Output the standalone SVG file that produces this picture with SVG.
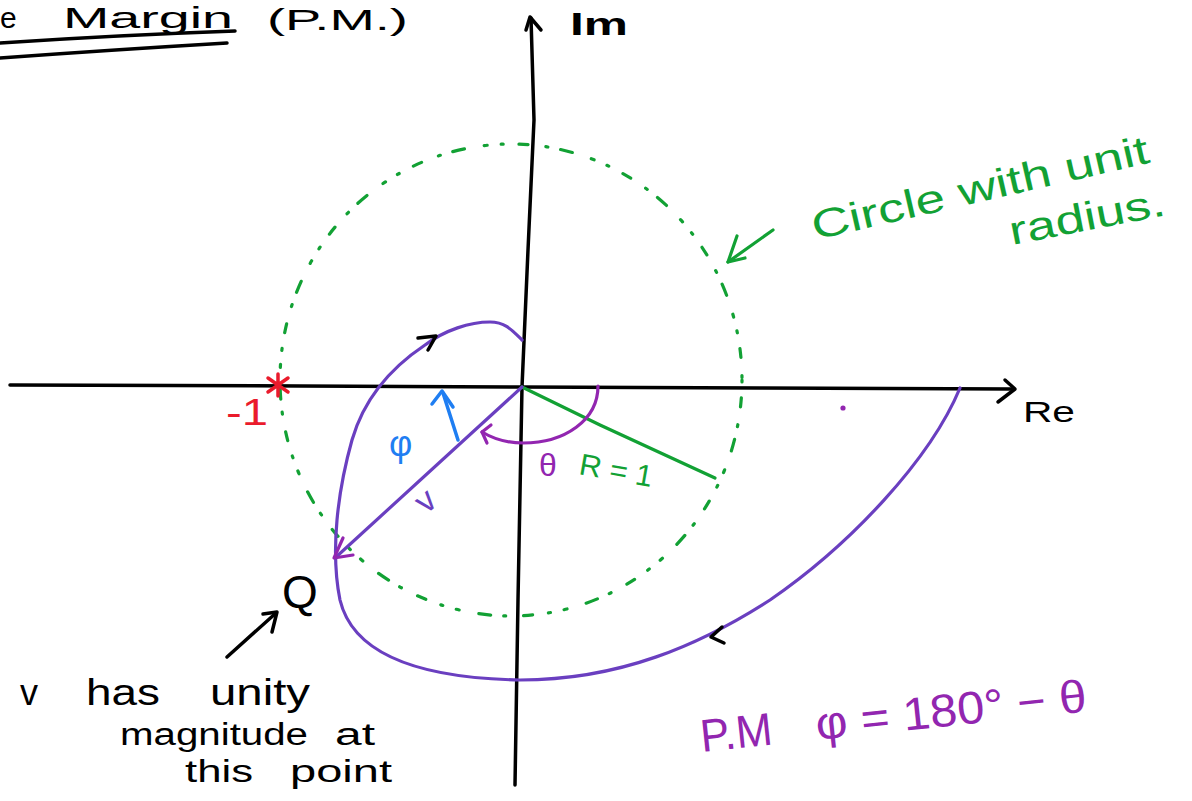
<svg xmlns="http://www.w3.org/2000/svg" width="1192" height="801" viewBox="0 0 1192 801">
<style>
  .ink { fill: none; stroke-linecap: round; stroke-linejoin: round; }
  .blk { stroke: #000; stroke-width: 3.5; }
  .pur { stroke: #6a3fc0; stroke-width: 3.2; }
  .mag { stroke: #9226b0; stroke-width: 3.2; }
  .grn { stroke: #12a134; stroke-width: 3.2; }
  .blu { stroke: #1f7ef2; stroke-width: 3.5; }
  .red { stroke: #ea1b2c; stroke-width: 3.5; }
  .t { font-family: "Liberation Sans", Arial, sans-serif; }
  .tb { fill: #000; }
  .tg { fill: #12a134; }
  .tm { fill: #9226b0; }
  .tp { fill: #6a3fc0; }
  .tbl { fill: #1f7ef2; }
  .tr { fill: #ea1b2c; }
</style>

<g id="title">
  <text class="t tb" x="0" y="28" font-size="30">e</text>
  <text class="t tb" x="63" y="28" font-size="30" textLength="170" lengthAdjust="spacingAndGlyphs">Margin</text>
  <text class="t tb" x="267" y="30" font-size="30" textLength="141" lengthAdjust="spacingAndGlyphs">(P.M.)</text>
  <path class="ink blk" d="M0,43 Q120,35 235,31"/>
  <path class="ink blk" d="M0,58 Q110,50 227,43"/>
</g>

<g id="axes">
  <path class="ink blk" d="M10,385 L300,386 L520,387 L760,388 L1012,389"/>
  <path class="ink blk" d="M1005,380 L1015,389 L998,402"/>
  <path class="ink blk" d="M515,785 L518,600 L522,387 L528,250 L534,120 L531,18"/>
  <path class="ink blk" d="M526,30 L530,17 L541,30"/>
  <text class="t tb" x="570" y="35" font-size="32" font-weight="bold" textLength="58" lengthAdjust="spacingAndGlyphs">Im</text>
  <text class="t tb" x="1023" y="422" font-size="30" textLength="52" lengthAdjust="spacingAndGlyphs">Re</text>
</g>

<g id="unit-circle">
  <ellipse class="ink grn" cx="511" cy="380" rx="231" ry="236" stroke-dasharray="2 16 9 18 2 13 12 20 3 14"/>
  <path class="ink grn" d="M522,387 L600,425 L715,478"/>
  <text class="t tg" x="578" y="474" font-size="30" transform="rotate(10 578 474)" textLength="74" lengthAdjust="spacingAndGlyphs">R = 1</text>
</g>

<g id="circle-label">
  <path class="ink grn" d="M773,230 L728,262"/>
  <path class="ink grn" d="M737,236 L728,262 L745,258"/>
  <text class="t tg" x="815" y="240" font-size="40" transform="rotate(-13 815 240)" textLength="345" lengthAdjust="spacingAndGlyphs">Circle with unit</text>
  <text class="t tg" x="1012" y="245" font-size="40" transform="rotate(-11 1012 245)" textLength="158" lengthAdjust="spacingAndGlyphs">radius.</text>
</g>

<g id="connectors">
  <path id="nyquist" class="ink pur" d="M522,340 C512,330 505,322 490,322 C470,322 445,330 425,345 C395,365 365,395 352,440 C338,490 330,550 340,600 C352,650 410,678 520,680 C620,680 700,645 770,600 C850,545 930,460 960,388"/>
  <path class="ink blk" stroke-width="3" d="M418,338 L436,336 L428,350"/>
  <path class="ink blk" stroke-width="3" d="M722,627 L711,637 L724,643"/>
  <path id="vector-v" class="ink pur" d="M522,387 L335,558"/>
  <path class="ink mag" d="M343,538 L334,558 L353,555"/>
  <path id="theta-arc" class="ink mag" d="M598,386 C598,420 565,443 523,443 C505,443 492,438 482,432"/>
  <path class="ink mag" d="M491,425 L482,432 L487,443"/>
  <path id="phi-arrow" class="ink blu" d="M458,440 L443,393"/>
  <path class="ink blu" d="M432,404 L442,391 L453,407"/>
  <path class="ink blk" stroke-width="3" d="M227,657 L276,613"/>
  <path class="ink blk" stroke-width="3" d="M263,614 L277,612 L272,632"/>
</g>

<g id="labels">
  <text class="t tm" x="539" y="476" font-size="32">θ</text>
  <text class="t tbl" x="389" y="456" font-size="36">φ</text>
  <text class="t tp" x="417" y="510" font-size="34" transform="rotate(-40 428 500)">v</text>
  <text class="t tb" x="282" y="608" font-size="46">Q</text>
</g>

<g id="minus-one">
  <path class="ink red" d="M278,374 L278,396 M268,378 L288,392 M288,378 L268,392"/>
  <text class="t tr" x="226" y="425" font-size="36" textLength="42" lengthAdjust="spacingAndGlyphs">-1</text>
</g>

<circle cx="843" cy="408" r="2.6" fill="#9226b0"/>

<g id="note">
  <text class="t tb" x="20" y="705" font-size="36">v</text>
  <text class="t tb" x="86" y="705" font-size="36" textLength="74" lengthAdjust="spacingAndGlyphs">has</text>
  <text class="t tb" x="210" y="705" font-size="36" textLength="100" lengthAdjust="spacingAndGlyphs">unity</text>
  <text class="t tb" x="120" y="745" font-size="31" textLength="188" lengthAdjust="spacingAndGlyphs">magnitude</text>
  <text class="t tb" x="335" y="745" font-size="31" textLength="40" lengthAdjust="spacingAndGlyphs">at</text>
  <text class="t tb" x="185" y="782" font-size="31" textLength="68" lengthAdjust="spacingAndGlyphs">this</text>
  <text class="t tb" x="290" y="782" font-size="31" textLength="102" lengthAdjust="spacingAndGlyphs">point</text>
</g>

<g id="pm-formula" transform="rotate(-6 702 752)">
  <text class="t tm" x="702" y="752" font-size="46" textLength="72" lengthAdjust="spacingAndGlyphs">P.M</text>
  <text class="t tm" x="818" y="752" font-size="46" textLength="272" lengthAdjust="spacingAndGlyphs">φ = 180° − θ</text>
</g>
</svg>
